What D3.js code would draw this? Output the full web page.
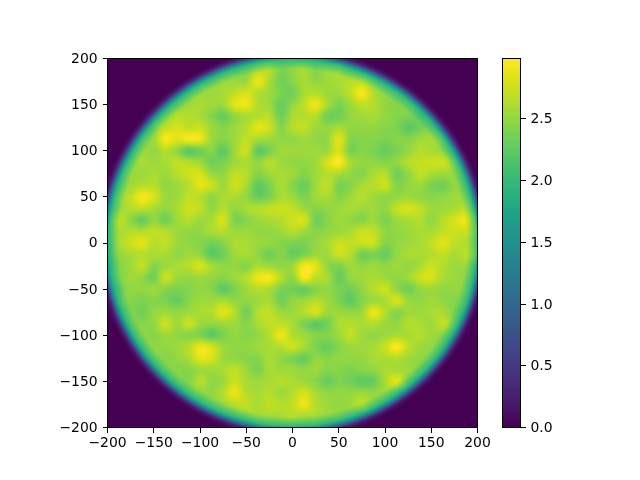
<!DOCTYPE html>
<html><head><meta charset="utf-8">
<script src="https://cdn.jsdelivr.net/npm/d3@7"></script>
<style>html,body{margin:0;padding:0;background:#fff}#w{position:relative;width:640px;height:480px}canvas,svg{position:absolute;left:0;top:0}text{font-family:"DejaVu Sans";font-size:13.9px;fill:#000}</style>
</head><body><div id="w"><canvas id="c" width="640" height="480"></canvas><svg id="s" width="640" height="480"></svg></div>
<script>
const gridX=[-200,-187.5,-175,-162.5,-150,-137.5,-125,-112.5,-100,-87.5,-75,-62.5,-50,-37.5,-25,-12.5,0,12.5,25,37.5,50,62.5,75,87.5,100,112.5,125,137.5,150,162.5,175,187.5,200];
const gridY=[200,187.5,175,162.5,150,137.5,125,112.5,100,87.5,75,62.5,50,37.5,25,12.5,0,-12.5,-25,-37.5,-50,-62.5,-75,-87.5,-100,-112.5,-125,-137.5,-150,-162.5,-175,-187.5,-200];
const density=[
[2.5,2.5,2.5,2.5,2.5,2.5,2.5,2.5,2.5,2.5,2.5,2.5,2.5,2.5,2.5,2.5,2.5,2.5,2.5,2.5,2.5,2.5,2.5,2.5,2.5,2.5,2.5,2.5,2.5,2.5,2.5,2.5,2.5],
[2.5,2.5,2.5,2.5,2.5,2.5,2.5,2.5,2.5,2.5,2.5,2.5,2.5,2.65,2.65,2.4,2.5,2.6,2.45,2.55,2.6,2.5,2.5,2.5,2.5,2.5,2.5,2.5,2.5,2.5,2.5,2.5,2.5],
[2.5,2.5,2.5,2.5,2.5,2.5,2.5,2.5,2.5,2.5,2.55,2.55,2.55,2.9,2.6,2.35,2.45,2.6,2.5,2.55,2.6,2.65,2.7,2.55,2.5,2.5,2.5,2.5,2.5,2.5,2.5,2.5,2.5],
[2.5,2.5,2.5,2.5,2.5,2.5,2.5,2.5,2.55,2.55,2.6,2.7,2.8,2.65,2.55,2.4,2.35,2.6,2.65,2.55,2.55,2.7,2.95,2.65,2.5,2.5,2.55,2.5,2.5,2.5,2.5,2.5,2.5],
[2.5,2.5,2.5,2.5,2.5,2.5,2.5,2.55,2.6,2.55,2.55,2.85,2.9,2.65,2.55,2.3,2.5,2.7,2.9,2.6,2.4,2.55,2.7,2.65,2.5,2.45,2.5,2.55,2.5,2.5,2.5,2.5,2.5],
[2.5,2.5,2.5,2.5,2.5,2.55,2.65,2.65,2.6,2.45,2.3,2.5,2.6,2.65,2.65,2.35,2.6,2.65,2.65,2.35,2.35,2.5,2.55,2.6,2.5,2.45,2.4,2.4,2.55,2.5,2.5,2.5,2.5],
[2.5,2.5,2.5,2.5,2.55,2.7,2.8,2.7,2.75,2.55,2.45,2.55,2.65,2.85,2.75,2.45,2.65,2.7,2.55,2.5,2.6,2.5,2.5,2.5,2.45,2.4,2.25,2.35,2.5,2.55,2.5,2.5,2.5],
[2.5,2.5,2.5,2.55,2.55,2.95,2.85,2.95,2.9,2.55,2.45,2.55,2.7,2.6,2.55,2.5,2.5,2.55,2.5,2.5,2.85,2.45,2.45,2.45,2.4,2.45,2.45,2.55,2.6,2.6,2.55,2.5,2.5],
[2.5,2.5,2.5,2.55,2.5,2.65,2.5,2.25,2.35,2.45,2.25,2.55,2.75,2.25,2.4,2.55,2.55,2.55,2.55,2.55,2.8,2.4,2.45,2.4,2.3,2.4,2.5,2.65,2.6,2.55,2.5,2.5,2.5],
[2.5,2.5,2.5,2.6,2.55,2.6,2.7,2.65,2.55,2.35,2.4,2.55,2.6,2.5,2.65,2.55,2.5,2.5,2.55,2.8,2.98,2.6,2.5,2.5,2.45,2.5,2.65,2.7,2.75,2.75,2.6,2.5,2.5],
[2.5,2.5,2.55,2.55,2.6,2.55,2.65,2.75,2.8,2.55,2.5,2.7,2.65,2.45,2.55,2.6,2.55,2.45,2.55,2.65,2.6,2.5,2.45,2.6,2.65,2.35,2.5,2.7,2.6,2.55,2.55,2.5,2.5],
[2.5,2.5,2.55,2.65,2.65,2.5,2.55,2.65,2.85,2.75,2.55,2.75,2.6,2.25,2.4,2.6,2.45,2.3,2.55,2.7,2.4,2.45,2.6,2.65,2.75,2.45,2.5,2.55,2.4,2.35,2.5,2.5,2.5],
[2.5,2.55,2.7,2.95,2.8,2.55,2.55,2.7,2.65,2.5,2.6,2.6,2.5,2.3,2.4,2.6,2.55,2.4,2.55,2.6,2.45,2.55,2.65,2.55,2.5,2.5,2.55,2.5,2.45,2.5,2.55,2.55,2.5],
[2.5,2.55,2.65,2.7,2.6,2.5,2.6,2.75,2.7,2.5,2.65,2.5,2.6,2.65,2.7,2.75,2.7,2.55,2.45,2.5,2.55,2.6,2.55,2.55,2.5,2.7,2.8,2.7,2.55,2.55,2.6,2.7,2.6],
[2.55,2.7,2.5,2.3,2.5,2.35,2.55,2.65,2.55,2.6,2.8,2.4,2.45,2.55,2.6,2.65,2.75,2.8,2.35,2.45,2.55,2.5,2.45,2.55,2.4,2.55,2.6,2.65,2.5,2.65,2.8,2.9,2.75],
[2.55,2.6,2.65,2.65,2.7,2.65,2.55,2.5,2.5,2.6,2.65,2.55,2.55,2.5,2.5,2.55,2.65,2.55,2.45,2.5,2.55,2.6,2.75,2.7,2.5,2.5,2.55,2.6,2.6,2.7,2.75,2.75,2.8],
[2.45,2.6,2.75,2.85,2.65,2.7,2.55,2.5,2.45,2.35,2.45,2.6,2.6,2.55,2.5,2.45,2.4,2.4,2.5,2.6,2.75,2.7,2.75,2.75,2.45,2.5,2.55,2.6,2.7,2.85,2.7,2.65,2.7],
[2.45,2.5,2.6,2.65,2.6,2.6,2.5,2.55,2.5,2.25,2.35,2.55,2.6,2.5,2.35,2.45,2.3,2.4,2.55,2.55,2.75,2.65,2.35,2.4,2.3,2.5,2.6,2.6,2.65,2.7,2.6,2.7,2.75],
[2.4,2.45,2.55,2.7,2.45,2.55,2.6,2.65,2.8,2.6,2.5,2.5,2.45,2.6,2.55,2.5,2.55,2.95,2.85,2.5,2.4,2.55,2.5,2.55,2.5,2.55,2.5,2.6,2.75,2.65,2.55,2.55,2.55],
[2.5,2.45,2.55,2.5,2.35,2.75,2.55,2.5,2.55,2.5,2.45,2.55,2.65,2.9,2.95,2.65,2.5,2.95,2.7,2.6,2.3,2.5,2.55,2.6,2.55,2.5,2.55,2.75,2.8,2.6,2.55,2.5,2.5],
[2.5,2.4,2.5,2.5,2.55,2.45,2.4,2.45,2.5,2.45,2.25,2.4,2.55,2.65,2.6,2.4,2.35,2.3,2.45,2.5,2.4,2.35,2.5,2.65,2.75,2.5,2.35,2.5,2.55,2.5,2.5,2.5,2.5],
[2.5,2.5,2.45,2.4,2.45,2.4,2.3,2.45,2.55,2.55,2.6,2.5,2.5,2.55,2.6,2.35,2.5,2.55,2.65,2.55,2.4,2.25,2.45,2.55,2.6,2.8,2.55,2.5,2.55,2.5,2.45,2.5,2.5],
[2.5,2.5,2.45,2.35,2.5,2.55,2.5,2.55,2.6,2.65,2.85,2.65,2.35,2.65,2.7,2.55,2.55,2.65,2.8,2.55,2.55,2.5,2.55,2.9,2.65,2.45,2.55,2.55,2.6,2.6,2.45,2.5,2.5],
[2.5,2.5,2.5,2.45,2.5,2.75,2.55,2.75,2.55,2.5,2.55,2.55,2.45,2.6,2.7,2.7,2.6,2.4,2.25,2.35,2.6,2.65,2.6,2.65,2.55,2.5,2.65,2.6,2.55,2.7,2.55,2.5,2.5],
[2.5,2.5,2.5,2.5,2.45,2.55,2.5,2.45,2.4,2.25,2.4,2.5,2.45,2.5,2.65,2.9,2.65,2.55,2.45,2.45,2.55,2.7,2.55,2.5,2.55,2.6,2.6,2.65,2.55,2.5,2.5,2.5,2.5],
[2.5,2.5,2.5,2.5,2.5,2.5,2.55,2.65,2.9,2.8,2.55,2.5,2.5,2.55,2.6,2.65,2.75,2.6,2.4,2.3,2.45,2.55,2.55,2.6,2.75,2.98,2.7,2.55,2.5,2.5,2.5,2.5,2.5],
[2.5,2.5,2.5,2.5,2.5,2.45,2.5,2.6,2.85,2.8,2.55,2.5,2.45,2.45,2.6,2.5,2.4,2.3,2.5,2.45,2.5,2.5,2.5,2.6,2.6,2.65,2.55,2.5,2.5,2.5,2.5,2.5,2.5],
[2.5,2.5,2.5,2.5,2.5,2.5,2.45,2.45,2.55,2.55,2.6,2.7,2.55,2.4,2.6,2.55,2.55,2.5,2.55,2.45,2.45,2.4,2.45,2.5,2.6,2.6,2.55,2.5,2.5,2.5,2.5,2.5,2.5],
[2.5,2.5,2.5,2.5,2.5,2.5,2.5,2.45,2.65,2.5,2.55,2.75,2.6,2.55,2.6,2.65,2.6,2.55,2.45,2.3,2.4,2.35,2.25,2.3,2.6,2.85,2.55,2.5,2.5,2.5,2.5,2.5,2.5],
[2.5,2.5,2.5,2.5,2.5,2.5,2.5,2.5,2.5,2.5,2.65,2.9,2.65,2.6,2.65,2.55,2.65,2.8,2.6,2.5,2.5,2.5,2.55,2.5,2.55,2.5,2.5,2.5,2.5,2.5,2.5,2.5,2.5],
[2.5,2.5,2.5,2.5,2.5,2.5,2.5,2.5,2.5,2.5,2.55,2.65,2.7,2.6,2.7,2.65,2.7,2.9,2.65,2.55,2.5,2.55,2.7,2.55,2.5,2.5,2.5,2.5,2.5,2.5,2.5,2.5,2.5],
[2.5,2.5,2.5,2.5,2.5,2.5,2.5,2.5,2.5,2.5,2.5,2.5,2.55,2.6,2.6,2.6,2.65,2.6,2.6,2.55,2.55,2.5,2.5,2.5,2.5,2.5,2.5,2.5,2.5,2.5,2.5,2.5,2.5],
[2.5,2.5,2.5,2.5,2.5,2.5,2.5,2.5,2.5,2.5,2.5,2.5,2.5,2.5,2.5,2.5,2.5,2.5,2.5,2.5,2.5,2.5,2.5,2.5,2.5,2.5,2.5,2.5,2.5,2.5,2.5,2.5,2.5]
];
const edgeRadius=[0,188,191,194,197,199,201,203,205,207,210,213,300];
const edgeFactor=[1,1,0.95,0.89,0.83,0.78,0.66,0.47,0.27,0.12,0.03,0,0];
const xTicks=[-200,-150,-100,-50,0,50,100,150,200];
const yTicks=[-200,-150,-100,-50,0,50,100,150,200];
const barTicks=[0,0.5,1,1.5,2,2.5];
const valueMax=2.99;

const L=107.5,R=477.5,T=58.5,B=427.5,CL=502.5,CR=520.5;
const x=d3.scaleLinear().domain([-200,200]).range([L,R]);
const y=d3.scaleLinear().domain([-200,200]).range([B,T]);
const cy=d3.scaleLinear().domain([0,valueMax]).range([B,T]);
const color=d3.scaleSequential(d3.interpolateViridis).domain([0,valueMax]);
const edge=d3.scaleLinear().domain(edgeRadius).range(edgeFactor).clamp(true);
const colIdx=d3.scaleLinear().domain(gridX).range(gridX.map((_,i)=>i)).clamp(true);
const rowIdx=d3.scaleLinear().domain(gridY).range(gridY.map((_,i)=>i)).clamp(true);

function cr(a,b,c,d,t){return 0.5*(2*b+(c-a)*t+(2*a-5*b+4*c-d)*t*t+(3*b-a-3*c+d)*t*t*t);}
function sample(dx,dy){
  const u=colIdx(dx),v=rowIdx(dy),n=gridX.length-1,m=gridY.length-1;
  const i=Math.min(Math.floor(u),n-1),j=Math.min(Math.floor(v),m-1),tx=u-i,ty=v-j;
  const vals=[];
  for(let q=-1;q<=2;q++){
    const r=density[Math.max(0,Math.min(m,j+q))];
    vals.push(cr(r[Math.max(0,i-1)],r[i],r[i+1],r[Math.min(n,i+2)],tx));
  }
  return cr(vals[0],vals[1],vals[2],vals[3],ty);
}
const ctx=document.getElementById('c').getContext('2d');
ctx.fillStyle='#fff';ctx.fillRect(0,0,640,480);
for(let py=58;py<428;py++)for(let px=107;px<478;px++){
  const dx=x.invert(px+0.5),dy=y.invert(py+0.5);
  const val=Math.max(0,Math.min(valueMax,sample(dx,dy)*edge(Math.hypot(dx,dy))));
  ctx.fillStyle=color(val);ctx.fillRect(px,py,1,1);
}
for(let py=58;py<428;py++){
  ctx.fillStyle=color(Math.max(0,Math.min(valueMax,cy.invert(py+0.5))));ctx.fillRect(502,py,19,1);
}
const svg=d3.select('#s');
function style(g){g.select('.domain').remove();g.selectAll('line').attr('stroke','#000').attr('stroke-width',1).attr('shape-rendering','crispEdges');g.selectAll('text').attr('fill','#000').style('font-family','"DejaVu Sans"').style('font-size','13.9px');}
svg.append('g').attr('transform',`translate(0,${B})`).call(d3.axisBottom(x).offset(0).tickValues(xTicks).tickSize(5).tickPadding(4.9).tickFormat(d3.format('d'))).call(style);
svg.append('g').attr('transform',`translate(${L},0)`).call(d3.axisLeft(y).offset(0).tickValues(yTicks).tickSize(5).tickPadding(4.9).tickFormat(d3.format('d'))).call(style);
svg.append('g').attr('transform',`translate(${CR},0)`).call(d3.axisRight(cy).offset(0).tickValues(barTicks).tickSize(5).tickPadding(4.9).tickFormat(d3.format('.1f'))).call(style);
[[L,R],[CL,CR]].forEach(([a,b])=>svg.append('rect').attr('x',a).attr('y',T).attr('width',b-a).attr('height',B-T).attr('fill','none').attr('stroke','#000').attr('stroke-width',1).attr('shape-rendering','crispEdges'));
</script></body></html>
